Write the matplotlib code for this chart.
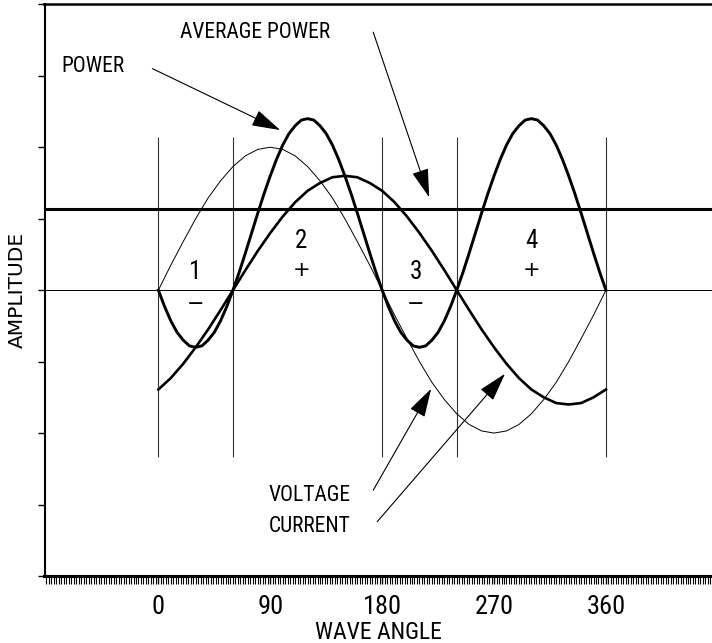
#!/usr/bin/env python
import numpy as np
import matplotlib.pyplot as plt
from matplotlib.ticker import MultipleLocator

# angles in degrees
angle = list(range(0, 361, 10))
angle_fine = list(range(0, 361, 5))
voltage = [0, 0.35, 0.68, 1.0, 1.29, 1.53, 1.73, 1.88, 1.97, 2.0, 1.97, 1.88,
           1.73, 1.53, 1.29, 1.0, 0.68, 0.35, 0, -0.35, -0.68, -1.0, -1.29, -1.53,
           -1.73, -1.88, -1.97, -2.0, -1.97, -1.88, -1.73, -1.53, -1.29, -1.0, -0.68, -0.35, 0]
current = [-1.39, -1.23, -1.03, -0.8, -0.55, -0.28, 0, 0.28, 0.55, 0.8, 1.03, 1.23,
           1.39, 1.5, 1.58, 1.6, 1.58, 1.5, 1.39, 1.23, 1.03, 0.8, 0.55, 0.28,
           0, -0.28, -0.55, -0.8, -1.03, -1.23, -1.39, -1.5, -1.58, -1.6, -1.58, -1.5, -1.39]
power = [0, -0.23, -0.43, -0.59, -0.70, -0.78, -0.8, -0.78, -0.70, -0.59, -0.43, -0.23,
         0, 0.25, 0.52, 0.8, 1.08, 1.35, 1.6, 1.83, 2.03, 2.19, 2.30, 2.38,
         2.4, 2.38, 2.30, 2.19, 2.03, 1.83, 1.6, 1.35, 1.08, 0.8, 0.52, 0.25,
         0, -0.23, -0.43, -0.59, -0.70, -0.78, -0.8, -0.78, -0.70, -0.59, -0.43, -0.23,
         0, 0.25, 0.52, 0.8, 1.08, 1.35, 1.6, 1.83, 2.03, 2.19, 2.30, 2.38,
         2.4, 2.38, 2.30, 2.19, 2.03, 1.83, 1.6, 1.35, 1.08, 0.8, 0.52, 0.25,
         0]
avg_power = 1.13
boundaries = [0, 60, 180, 240, 360]
xtick_vals = [0, 90, 180, 270, 360]
region_names = ['1', '2', '3', '4']
region_signs = ['\u2212', '+', '\u2212', '+']
region_x = [30, 115, 207, 300]

narrow = ['Roboto Condensed', 'Liberation Sans Narrow', 'DejaVu Sans Condensed', 'Roboto']

if __name__ == '__main__':
	fig = plt.figure(figsize=(7.12, 6.43), dpi=100)
	ax = fig.add_axes([0.0625, 0.1042, 0.9375, 0.8891])
	ax.set_xlim(-91.6, 445.3)
	ax.set_ylim(-4, 4)

	ax.axhline(0, color='black', lw=0.7, zorder=1)
	ax.axhline(avg_power, color='black', lw=2.2, zorder=2)
	ax.vlines(boundaries, -2.33, 2.15, color='#333333', lw=0.8, zorder=1)

	ax.plot(angle, voltage, color='black', lw=0.7, zorder=3)
	ax.plot(angle, current, color='black', lw=1.9, zorder=3)
	ax.plot(angle_fine, power, color='black', lw=2.1, zorder=3)

	# region labels
	for name, sign, xr in zip(region_names, region_signs, region_x):
		if sign == '+':
			ax.text(xr, 0.69, name, ha='center', va='center', fontsize=18, family=narrow)
			ax.text(xr, 0.28, sign, ha='center', va='center', fontsize=15, family='DejaVu Sans')
		else:
			ax.text(xr, 0.25, name, ha='center', va='center', fontsize=18, family=narrow)
			ax.text(xr, -0.2, sign, ha='center', va='center', fontsize=15, family='DejaVu Sans')

	ax.text(-53, 3.13, 'POWER', ha='center', va='center', fontsize=15.5, family=narrow)
	ax.text(78, 3.61, 'AVERAGE POWER', ha='center', va='center', fontsize=15.5, family=narrow)
	ax.text(88.4, -2.88, 'VOLTAGE', ha='left', va='center', fontsize=15.5, family=narrow)
	ax.text(88.4, -3.31, 'CURRENT', ha='left', va='center', fontsize=15.5, family=narrow)

	arrows = [((-4.8, 3.10), (98, 2.24)),
	          ((172.8, 3.61), (217.8, 1.30)),
	          ((172.8, -2.80), (219.4, -1.38)),
	          ((176, -3.24), (278.8, -1.17))]
	for tail, tip in arrows:
		ax.annotate('', xy=tip, xytext=tail,
		            arrowprops=dict(arrowstyle='-|>,head_length=1.2,head_width=0.35',
		                            mutation_scale=15, lw=0.8, color='black',
		                            shrinkA=0, shrinkB=0))

	ax.set_xticks(xtick_vals)
	ax.set_xticklabels([str(v) for v in xtick_vals], fontsize=19, family=narrow)
	ax.xaxis.set_minor_locator(MultipleLocator(2))
	ax.tick_params(axis='x', which='major', length=6, width=1, pad=8)
	ax.tick_params(axis='x', which='minor', length=6, width=0.8)
	ax.set_yticks(np.arange(-4, 5, 1))
	ax.set_yticklabels([])
	ax.tick_params(axis='y', which='major', length=5, width=1)

	ax.spines['right'].set_visible(False)
	ax.spines['left'].set_linewidth(1.5)
	ax.spines['bottom'].set_linewidth(2.2)
	ax.spines['top'].set_linewidth(1.8)

	ax.set_xlabel('WAVE ANGLE', fontsize=17, family=narrow, labelpad=1)
	ax.set_ylabel('AMPLITUDE', fontsize=14.5, labelpad=4)

	fig.savefig('out.png', dpi=100)
